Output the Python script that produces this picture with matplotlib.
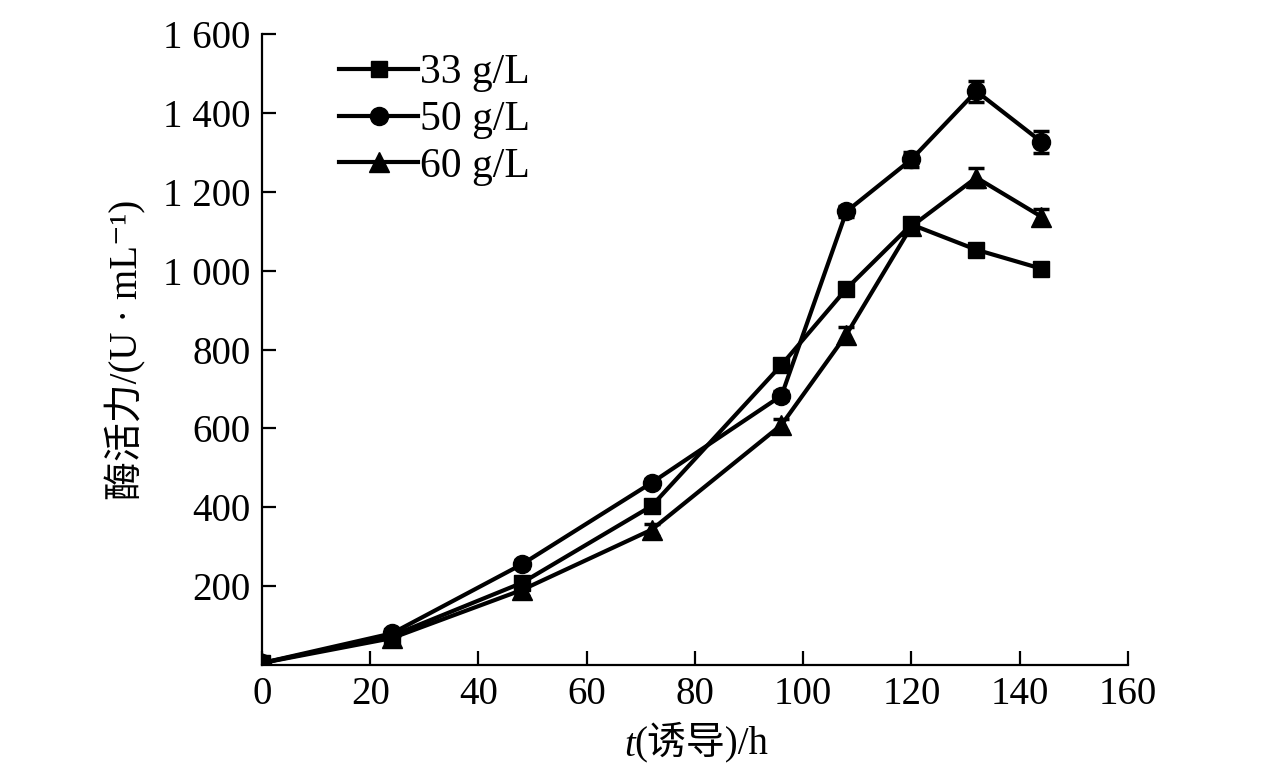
import matplotlib
matplotlib.use("Agg")
import matplotlib.pyplot as plt
import numpy as np

plt.rcParams['font.family'] = ['Liberation Serif', 'Noto Sans CJK SC', 'DejaVu Serif']

# induction time (h)
t = [0, 24, 48, 72, 96, 108, 120, 132, 144]

# enzyme activity (U/mL)
act_33 = [5, 74, 208, 403, 761, 954, 1117, 1053, 1005]
act_50 = [5, 80, 255, 462, 683, 1150, 1282, 1455, 1327]
act_60 = [5, 68, 190, 343, 609, 838, 1112, 1236, 1137]

err_33 = [3, 8, 15, 12, 10, 12, 15, 12, 15]
err_50 = [3, 8, 10, 10, 12, 15, 18, 27, 28]
err_60 = [3, 8, 15, 15, 15, 18, 15, 25, 20]

labels = ['33 g/L', '50 g/L', '60 g/L']

x_ticks = [0, 20, 40, 60, 80, 100, 120, 140, 160]
y_ticks = [200, 400, 600, 800, 1000, 1200, 1400, 1600]
y_tick_labels = ['200', '400', '600', '800', '1 000', '1 200', '1 400', '1 600']

fig = plt.figure(figsize=(12.76, 7.70), dpi=100)
ax = fig.add_axes([0.2053, 0.1364, 0.6786, 0.8194])

series = [(act_33, err_33, 's', 12), (act_50, err_50, 'o', 13), (act_60, err_60, '^', 15)]
handles = []
for (vals, errs, mk, ms), lab in zip(series, labels):
    ax.errorbar(t, vals, yerr=errs, fmt='none', ecolor='k', elinewidth=2,
                capsize=6, capthick=2.5)
    ln, = ax.plot(t, vals, color='k', marker=mk, markersize=ms, linewidth=3, label=lab)
    handles.append(ln)

ax.set_xlim(0, 160)
ax.set_ylim(0, 1600)
ax.set_xticks(x_ticks)
ax.set_xticklabels([str(v) for v in x_ticks])
ax.set_yticks(y_ticks)
ax.set_yticklabels(y_tick_labels)

for s in ['top', 'right']:
    ax.spines[s].set_visible(False)
for s in ['left', 'bottom']:
    ax.spines[s].set_linewidth(1.6)

ax.tick_params(direction='in', length=10, width=1.6, labelsize=28, pad=8)

# y label, superscript via unicode (mathtext would drop the CJK glyphs)
ax.set_ylabel('酶活力/(U · mL\u207b\u00b9)', fontsize=28, labelpad=12)

# x label: italic t drawn separately in front of the rest
xl = ax.set_xlabel('(诱导)/h', fontsize=28, labelpad=6)
xl.set_x(0.5 + 6 / (0.6786 * 1276))
fig.canvas.draw()
bb = xl.get_window_extent(fig.canvas.get_renderer())
fig.text((bb.x0 + 1) / fig.bbox.width, (bb.y0 + bb.y1) / 2 / fig.bbox.height, 't',
         fontsize=28, style='italic', ha='right', va='center_baseline')

ax.legend(handles=handles, loc='upper left', bbox_to_anchor=(0.07, 0.995), frameon=False,
          fontsize=30, handlelength=1.9, handletextpad=0.05, labelspacing=0.2,
          borderaxespad=0)

fig.savefig('out.png', dpi=100)
